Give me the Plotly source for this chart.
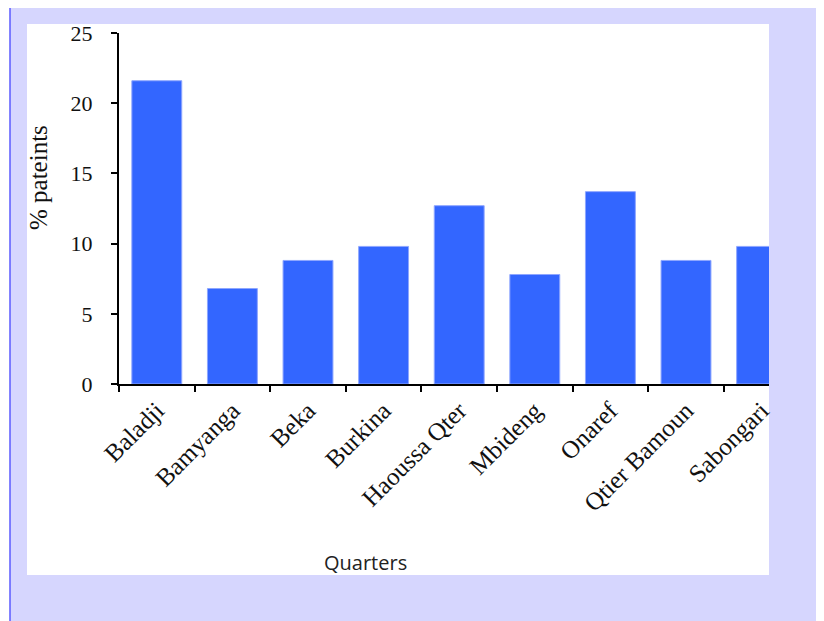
import plotly.graph_objects as go

categories = ["Baladji", "Bamyanga", "Beka", "Burkina", "Haoussa Qter",
              "Mbideng", "Onaref", "Qtier Bamoun", "Sabongari"]
values = [21.6, 6.8, 8.8, 9.8, 12.7, 7.8, 13.7, 8.8, 9.8]
y_ticks = [0, 5, 10, 15, 20, 25]

OFF = 8  # page body margin
W, H = 824 - OFF, 621 - OFF
L, R, T, B = 119 - OFF, 769 - OFF, 33 - OFF, 384 - OFF  # plot area in figure pixels


def px(x_page):
    return (x_page - OFF - L) / (R - L)


def py(y_page):
    return (B - (y_page - OFF)) / (B - T)


fig = go.Figure()
fig.add_trace(go.Bar(
    x=categories, y=values,
    marker=dict(color="#3366ff", line=dict(color="#8ea6ff", width=1)),
    width=0.66,
))

shapes = [
    dict(type="rect", xref="paper", yref="paper", layer="below",
         x0=px(10), x1=px(840), y0=py(640), y1=py(8),
         fillcolor="#d6d6fe", line=dict(width=0)),
    dict(type="rect", xref="paper", yref="paper", layer="below",
         x0=px(27), x1=px(769), y0=py(575), y1=py(24),
         fillcolor="white", line=dict(width=0)),
    dict(type="line", xref="paper", yref="paper", layer="below",
         x0=px(10), x1=px(10), y0=py(640), y1=py(8),
         line=dict(color="#5a5aff", width=1.5)),
]

annotations = [
    dict(text="Quarters", xref="paper", yref="paper", x=px(365), y=py(562),
         showarrow=False, font=dict(family="Open Sans", size=20, color="#222222"),
         xanchor="center", yanchor="middle"),
    dict(text="% pateints", xref="paper", yref="paper", x=px(38), y=py(178),
         showarrow=False, textangle=-90,
         font=dict(family="Liberation Serif", size=25, color="#111111"),
         xanchor="center", yanchor="middle"),
]

fig.update_layout(
    width=W, height=H,
    margin=dict(l=L, r=W - R, t=T, b=H - B, pad=0),
    paper_bgcolor="white", plot_bgcolor="white",
    showlegend=False,
    shapes=shapes, annotations=annotations,
    font=dict(family="Liberation Serif", size=20, color="#111111"),
)
fig.update_xaxes(
    range=[-0.5, -0.5 + (R - L) / 75.6],
    showline=True, linecolor="black", linewidth=2,
    ticks="outside", ticklen=6, tickwidth=2, tickcolor="black",
    tickson="boundaries", tickangle=-45, showgrid=False,
    tickfont=dict(family="Liberation Serif", size=25, color="#111111"),
)
fig.update_yaxes(
    range=[0, 25], tickvals=y_ticks,
    showline=True, linecolor="black", linewidth=2,
    ticks="outside", ticklen=6, tickwidth=2, tickcolor="black",
    showgrid=False, zeroline=False, ticklabelstandoff=14,
    tickfont=dict(family="Liberation Serif", size=22, color="#111111"),
)

fig.write_html("out.html")
